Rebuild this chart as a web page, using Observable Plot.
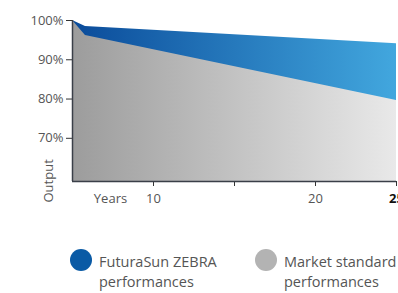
<!DOCTYPE html>
<html><head><meta charset="utf-8">
<script src="https://cdn.jsdelivr.net/npm/d3@7"></script>
<script src="https://cdn.jsdelivr.net/npm/@observablehq/plot@0.6"></script>
<style>
body{margin:0;background:#fff;font-family:"Open Sans",sans-serif;position:relative;width:398px;height:293px;overflow:hidden;}
#chart svg{display:block;}
.lg-dot{position:absolute;width:22px;height:22px;border-radius:50%;}
.lg-text{position:absolute;font-size:14.5px;line-height:20px;color:#555;width:125px;}
</style></head><body><div id="chart"></div><div id="legend"></div>
<script>
const years = [5, 5.8, 25];
const zebra = [100, 98.5, 94.1];
const market = [100, 96.2, 79.6];
const yTicks = [70, 80, 90, 100];
const xTicks = [10, 15, 20, 25];
const xTickLabels = ["10", "", "20", "25"];
const seriesNames = ["FuturaSun ZEBRA performances", "Market standard performances"];
const seriesColors = ["#0a5aa5", "#b3b3b3"];

const zebraData = years.map((y, i) => ({year: y, value: zebra[i]}));
const marketData = years.map((y, i) => ({year: y, value: market[i]}));
const yMin = 59;

const plot = Plot.plot({
  width: 398, height: 215,
  marginLeft: 72, marginRight: 2, marginTop: 20, marginBottom: 34,
  style: {fontFamily: '"Open Sans", sans-serif', fontSize: "13px", color: "#555", background: "#fff"},
  x: {domain: [5, 25]},
  y: {domain: [yMin, 100]},
  marks: [
    Plot.areaY(zebraData, {x: "year", y1: yMin, y2: "value", fill: "url(#gBlue)"}),
    Plot.areaY(marketData, {x: "year", y1: yMin, y2: "value", fill: "url(#gGray)"}),
    Plot.axisY({ticks: yTicks, tickFormat: d => d + "%", tickSize: 6, tickPadding: 3, stroke: "#333", fill: "#555", label: null}),
    Plot.axisX({ticks: xTicks, tickFormat: d => xTickLabels[xTicks.indexOf(d)], tickSize: 5, tickPadding: 7, stroke: "#333", fill: "#555", label: null}),
    Plot.ruleX([5], {stroke: "#3a3f48", strokeWidth: 1.5}),
    Plot.ruleY([yMin], {stroke: "#3a3f48", strokeWidth: 1.5}),
    Plot.text(["Years"], {frameAnchor: "bottom-left", dx: 38, dy: 17, textAnchor: "middle", lineAnchor: "middle", fill: "#555", fontSize: 13}),
    Plot.text(["Output"], {frameAnchor: "bottom-left", dx: -24, dy: 21, rotate: -90, textAnchor: "start", lineAnchor: "middle", fill: "#555", fontSize: 13})
  ]
});

const defs = d3.select(plot).insert("defs", ":first-child");
const gb = defs.append("linearGradient").attr("id", "gBlue").attr("x1", 0).attr("x2", 1).attr("y1", 0).attr("y2", 0);
gb.append("stop").attr("offset", "0%").attr("stop-color", "#0a4b9a");
gb.append("stop").attr("offset", "100%").attr("stop-color", "#42a7de");
const gg = defs.append("linearGradient").attr("id", "gGray").attr("x1", 0).attr("x2", 1).attr("y1", 0).attr("y2", 0);
gg.append("stop").attr("offset", "0%").attr("stop-color", "#9c9c9c");
gg.append("stop").attr("offset", "100%").attr("stop-color", "#e9e9e9");

d3.select(plot).selectAll("text").filter(function(){ return this.textContent === "25"; })
  .attr("font-weight", "bold").attr("fill", "#111");

document.getElementById("chart").appendChild(plot);

const legend = document.getElementById("legend");
const dotX = [70, 255], textX = [99, 284];
seriesNames.forEach((name, i) => {
  const dot = document.createElement("div");
  dot.className = "lg-dot";
  dot.style.left = dotX[i] + "px"; dot.style.top = "249px"; dot.style.background = seriesColors[i];
  legend.appendChild(dot);
  const t = document.createElement("div");
  t.className = "lg-text";
  t.style.left = textX[i] + "px"; t.style.top = "252px";
  t.textContent = name;
  legend.appendChild(t);
});
</script></body></html>
